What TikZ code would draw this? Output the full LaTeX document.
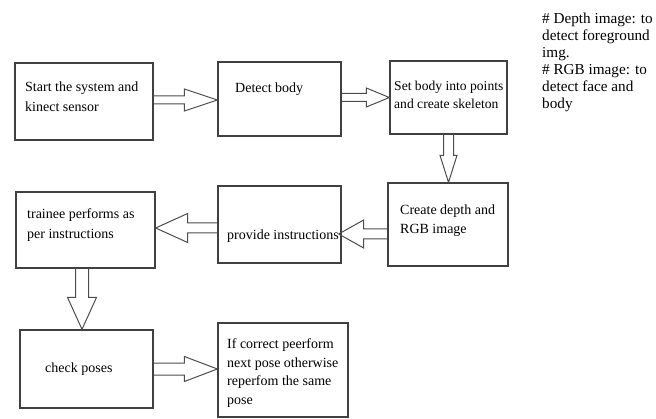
\documentclass[tikz,border=0pt]{standalone}
\usepackage{fontspec}
\setmainfont{Liberation Serif}
\usetikzlibrary{calc}

% hollow block arrow: start, tip, head length, half shaft, half head
\newcommand{\blockarrow}[5]{%
  \coordinate (hb) at ($(#2)!#3!(#1)$);
  \draw[blockarr] ($(#1)!#4!90:(#2)$) -- ($(hb)!#4!90:(#2)$)
    -- ($(hb)!#5!90:(#2)$) -- (#2) -- ($(hb)!#5!-90:(#2)$)
    -- ($(hb)!#4!-90:(#2)$) -- ($(#1)!#4!-90:(#2)$);
}

\begin{document}
\begin{tikzpicture}[x=1pt,y=1pt,
  box/.style={draw=black!75,line width=1.3pt,inner sep=0pt},
  txt/.style={anchor=north west,inner sep=0pt,align=left,
    font=\fontsize{14}{19}\selectfont},
  blockarr/.style={draw=black!70,line width=1pt,line join=miter}]
  \useasboundingbox (0,0) rectangle (656,418);

  % boxes
  \node[box,minimum width=138pt,minimum height=77pt] (start) at (84,316.5) {};
  \node[box,minimum width=123pt,minimum height=74pt] (detect) at (279.5,319) {};
  \node[box,minimum width=117pt,minimum height=73pt] (skeleton) at (448.5,320.5) {};
  \node[box,minimum width=120pt,minimum height=83pt] (depthrgb) at (448,193.5) {};
  \node[box,minimum width=123pt,minimum height=77pt] (instruct) at (279.5,193.5) {};
  \node[box,minimum width=139pt,minimum height=76pt] (trainee) at (85.5,188) {};
  \node[box,minimum width=133pt,minimum height=78pt] (check) at (86.5,49) {};
  \node[box,minimum width=130pt,minimum height=94pt] (result) at (283,48) {};

  % texts
  \node[txt,font=\fontsize{14}{20}\selectfont] (start-t) at (25,336.5)
    {Start the system and\\kinect sensor};
  \node[txt] (detect-t) at (235,335.5) {Detect body};
  \node[txt,font=\fontsize{13.6}{18}\selectfont] (skeleton-t) at (394,337.5)
    {Set body into points\\and create skeleton};
  \node[txt] (depthrgb-t) at (400,213.5) {Create depth and\\RGB image};
  \node[txt] (instruct-t) at (227,188.5) {provide instructions};
  \node[txt,font=\fontsize{14}{19.5}\selectfont] (trainee-t) at (27,209.5)
    {trainee performs as\\per instructions};
  \node[txt] (check-t) at (45,55.5) {check poses};
  \node[txt,font=\fontsize{14}{18.5}\selectfont] (result-t) at (227,79.5)
    {If correct peerform\\next pose otherwise\\reperfom the same\\pose};
  \node[txt,font=\fontsize{15.2}{17}\selectfont] (note) at (542,405)
    {\# Depth image: to\\detect foreground\\img.\\\# RGB image: to\\detect face and\\body};

  % arrows
  \coordinate (a1s) at ($(start.east)+(0,1.5)$);
  \coordinate (a1t) at (a1s -| detect.west);
  \blockarrow{a1s}{a1t}{33pt}{4pt}{11pt}
  \coordinate (a2s) at (detect.east |- skeleton.west);
  \blockarrow{a2s}{skeleton.west}{23pt}{4pt}{9.5pt}
  \coordinate (a3t) at (skeleton.south |- depthrgb.north);
  \blockarrow{skeleton.south}{a3t}{27pt}{5pt}{8.5pt}
  \coordinate (a4s) at ($(depthrgb.west)+(0,-9.5)$);
  \coordinate (a4t) at ($(a4s -| instruct.east)+(-3,0)$);
  \blockarrow{a4s}{a4t}{25pt}{5pt}{14pt}
  \coordinate (a5s) at ($(instruct.west)+(0,-3.5)$);
  \coordinate (a5t) at (a5s -| trainee.east);
  \blockarrow{a5s}{a5t}{32pt}{5pt}{14.5pt}
  \coordinate (a6s) at ($(trainee.south)+(-3.5,0)$);
  \coordinate (a6t) at (a6s |- check.north);
  \blockarrow{a6s}{a6t}{32pt}{6.5pt}{14.5pt}
  \coordinate (a7t) at (check.east -| result.west);
  \blockarrow{check.east}{a7t}{33pt}{6pt}{12.5pt}
\end{tikzpicture}
\end{document}
